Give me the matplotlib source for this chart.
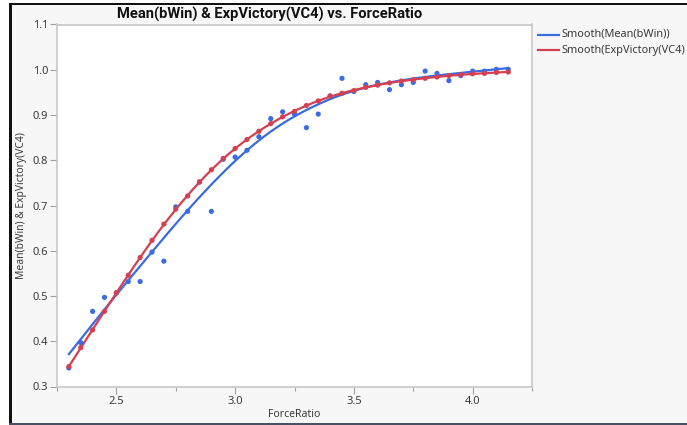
import numpy as np
import matplotlib
matplotlib.use("Agg")
import matplotlib.pyplot as plt
from matplotlib.patches import Rectangle
from matplotlib.ticker import FixedLocator, FormatStrFormatter

# Force ratio levels
force_ratio = [2.30, 2.35, 2.40, 2.45, 2.50, 2.55, 2.60, 2.65, 2.70, 2.75,
               2.80, 2.85, 2.90, 2.95, 3.00, 3.05, 3.10, 3.15, 3.20, 3.25,
               3.30, 3.35, 3.40, 3.45, 3.50, 3.55, 3.60, 3.65, 3.70, 3.75,
               3.80, 3.85, 3.90, 3.95, 4.00, 4.05, 4.10, 4.15]

# Mean(bWin): observed win fraction
mean_bwin = [0.341, 0.397, 0.466, 0.497, 0.507, 0.532, 0.532, 0.597, 0.577, 0.697,
             0.687, 0.752, 0.687, 0.802, 0.807, 0.822, 0.852, 0.892, 0.907, 0.902,
             0.872, 0.902, 0.942, 0.981, 0.952, 0.967, 0.972, 0.956, 0.967, 0.972,
             0.997, 0.992, 0.976, 0.987, 0.997, 0.997, 1.001, 1.001]

# ExpVictory(VC4): expected victory
exp_victory = [0.344, 0.386, 0.425, 0.466, 0.507, 0.546, 0.585, 0.623, 0.659, 0.692,
               0.721, 0.752, 0.779, 0.804, 0.826, 0.846, 0.864, 0.881, 0.896, 0.908,
               0.921, 0.931, 0.942, 0.948, 0.954, 0.961, 0.966, 0.971, 0.975, 0.978,
               0.981, 0.984, 0.987, 0.989, 0.991, 0.992, 0.994, 0.995]

series_names = ["Smooth(Mean(bWin))", "Smooth(ExpVictory(VC4)"]
x_ticks = [2.5, 3.0, 3.5, 4.0]
y_ticks = [0.3, 0.4, 0.5, 0.6, 0.7, 0.8, 0.9, 1.0, 1.1]

BLUE = "#3a6be0"
RED = "#d63f4f"
TXT = "#3a3a3a"


def smoothing_spline(t, y, lam, grid):
    """Cubic smoothing spline (Reinsch form) evaluated on grid."""
    t = np.asarray(t, float)
    y = np.asarray(y, float)
    n = len(t)
    h = np.diff(t)
    Q = np.zeros((n, n - 2))
    R = np.zeros((n - 2, n - 2))
    for j in range(1, n - 1):
        Q[j - 1, j - 1] = 1 / h[j - 1]
        Q[j, j - 1] = -1 / h[j - 1] - 1 / h[j]
        Q[j + 1, j - 1] = 1 / h[j]
        R[j - 1, j - 1] = (h[j - 1] + h[j]) / 3
        if j < n - 2:
            R[j - 1, j] = R[j, j - 1] = h[j] / 6
    K = Q @ np.linalg.solve(R, Q.T)
    g = np.linalg.solve(np.eye(n) + lam * K, y)
    gam = np.zeros(n)
    gam[1:-1] = np.linalg.solve(R, Q.T @ g)
    idx = np.clip(np.searchsorted(t, grid) - 1, 0, n - 2)
    tl, tr = t[idx], t[idx + 1]
    hh = tr - tl
    a, b = grid - tl, tr - grid
    return ((a * g[idx + 1] + b * g[idx]) / hh
            - a * b / 6 * ((1 + a / hh) * gam[idx + 1] + (1 + b / hh) * gam[idx]))


plt.rcParams["font.family"] = ["Noto Sans", "DejaVu Sans"]

W, H = 687, 425
fig = plt.figure(figsize=(W / 100, H / 100), dpi=100)
fig.patch.set_facecolor("white")

# Panel background with dark frame (kept behind the axes)
fig.patches.append(Rectangle((10 / W, 0), 1, 1 - 4 / H, transform=fig.transFigure,
                             facecolor="#f7f7f7", edgecolor="none", zorder=-2))
fig.patches.append(Rectangle((9 / W, 0), 2.5 / W, 1 - 2.5 / H, transform=fig.transFigure,
                             facecolor="#111111", edgecolor="none", zorder=-1))
fig.patches.append(Rectangle((9 / W, 1 - 5 / H), 1, 2.5 / H, transform=fig.transFigure,
                             facecolor="#111111", edgecolor="none", zorder=-1))
fig.patches.append(Rectangle((9 / W, 0), 1, 2.5 / H, transform=fig.transFigure,
                             facecolor="#4a5060", edgecolor="none", zorder=-1))


def px_axes(l, t, r, b):
    return [l / W, 1 - b / H, (r - l) / W, (b - t) / H]


ax = fig.add_axes(px_axes(57, 24.5, 532, 386.5))
ax.set_facecolor("white")

x = np.array(force_ratio)
grid = np.linspace(x.min(), x.max(), 400)

for yvals, color, name, lam in [(mean_bwin, BLUE, series_names[0], 0.02),
                                (exp_victory, RED, series_names[1], 0.0005)]:
    y = np.array(yvals)
    ax.plot(grid, smoothing_spline(x, y, lam, grid), color=color, lw=1.6,
            label=name, zorder=3)
    ax.scatter(x, y, s=14, color=color, edgecolors="none", zorder=4)

ax.set_xlim(2.25, 4.25)
ax.set_ylim(0.3, 1.1)
ax.xaxis.set_major_locator(FixedLocator(x_ticks))
ax.xaxis.set_minor_locator(FixedLocator([2.25, 2.75, 3.25, 3.75, 4.25]))
ax.yaxis.set_major_locator(FixedLocator(y_ticks))
ax.yaxis.set_major_formatter(FormatStrFormatter("%.1f"))
ax.xaxis.set_major_formatter(FormatStrFormatter("%.1f"))

for s in ax.spines.values():
    s.set_color("#c8c8c8")
    s.set_linewidth(1.2)

ax.tick_params(axis="both", which="major", color="#a0a0a0", labelcolor=TXT,
               labelsize=8, length=5, width=0.8, pad=1.5)
ax.tick_params(axis="x", which="minor", color="#a0a0a0", length=3, width=0.8)

ax.set_xlabel("ForceRatio", fontsize=7.5, color=TXT, labelpad=2)
ax.set_ylabel("Mean(bWin) & ExpVictory(VC4)", fontsize=7.4, color=TXT, labelpad=4)

fig.text(270 / W, 1 - 14.5 / H, "Mean(bWin) & ExpVictory(VC4) vs. ForceRatio",
         ha="center", va="center", fontsize=10.6, fontweight="bold", color="#111111",
         family=["Roboto", "DejaVu Sans"])

# Legend drawn at the right of the plot
for i, (name, color) in enumerate(zip(series_names, [BLUE, RED])):
    yy = 1 - (34.5 + 15.5 * i) / H
    fig.add_artist(plt.Line2D([538 / W, 559 / W], [yy, yy], transform=fig.transFigure,
                              color=color, lw=1.6))
    fig.text(561 / W, yy, name, ha="left", va="center", fontsize=7.9, color=TXT)

fig.savefig("out.png", dpi=100, facecolor=fig.get_facecolor())
